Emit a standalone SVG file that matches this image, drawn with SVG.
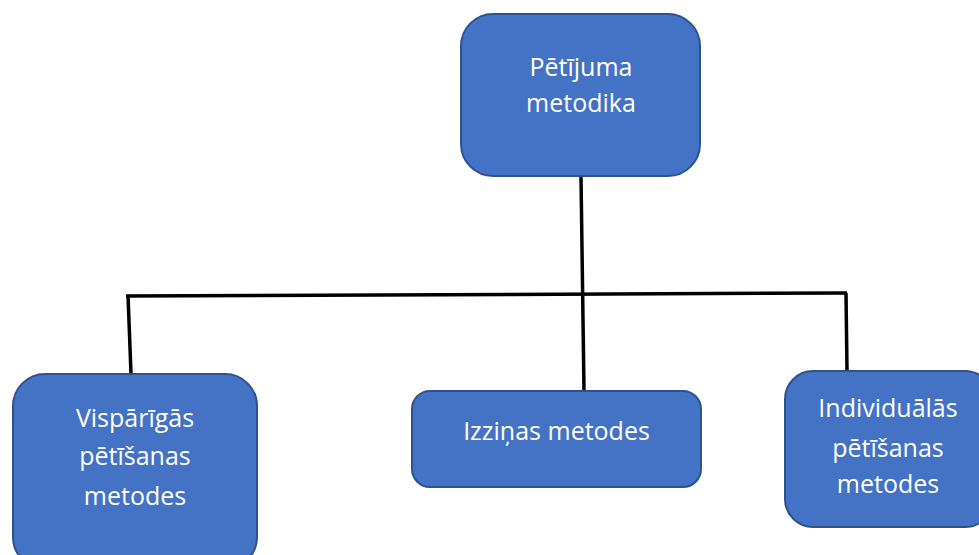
<svg xmlns="http://www.w3.org/2000/svg" width="979" height="555" viewBox="0 0 979 555">
<style>
.box{fill:#4472C4;stroke:#2F528F;stroke-width:2}
.t{fill:#ffffff;font-family:"Open Sans","Liberation Sans",sans-serif;font-size:25px;text-anchor:middle}
.c{stroke:#000;stroke-width:3.5;fill:none;stroke-linecap:butt}
</style>
<rect width="979" height="555" fill="#ffffff"/>
<g id="connectors">
<line class="c" x1="581" y1="176" x2="584" y2="391"/>
<line class="c" x1="126" y1="296" x2="847" y2="293"/>
<line class="c" x1="128" y1="295" x2="131" y2="374"/>
<line class="c" x1="846" y1="293" x2="847" y2="371"/>
</g>
<g id="n-top">
<rect class="box" x="461" y="14" width="239" height="162" rx="32"/>
<text class="t" x="581" y="76">Pētījuma</text>
<text class="t" x="581" y="112">metodika</text>
</g>
<g id="n-left">
<rect class="box" x="13" y="374" width="244" height="195" rx="32"/>
<text class="t" x="135" y="427">Vispārīgās</text>
<text class="t" x="135" y="465">pētīšanas</text>
<text class="t" x="135" y="505">metodes</text>
</g>
<g id="n-mid">
<rect class="box" x="412" y="391" width="289" height="96" rx="18"/>
<text class="t" x="556.5" y="440">Izziņas metodes</text>
</g>
<g id="n-right">
<rect class="box" x="785" y="371" width="208" height="156" rx="28"/>
<text class="t" x="888" y="417">Individuālās</text>
<text class="t" x="888" y="457">pētīšanas</text>
<text class="t" x="888" y="493">metodes</text>
</g>
</svg>
